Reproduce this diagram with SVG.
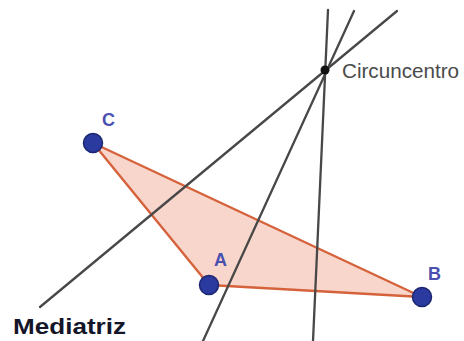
<svg xmlns="http://www.w3.org/2000/svg" width="464" height="341" viewBox="0 0 464 341">
<style>
.line{stroke:#484848;stroke-width:2.3;stroke-linecap:round;fill:none}
.tri{fill:#f8d6cb;stroke:#d6623c;stroke-width:2.4;stroke-linejoin:round}
.pt{fill:#2b3a9e;stroke:#1c2670;stroke-width:1.5}
.lbl{font-family:"Liberation Sans",Arial,sans-serif;font-weight:bold;font-size:18px;fill:#4a4fb0}
</style>
<rect width="464" height="341" fill="#ffffff"/>
<g id="triangle">
<polygon class="tri" points="93,143 209,285 422,297"/>
</g>
<g id="connectors">
<line class="line" x1="397" y1="11" x2="40" y2="307"/>
<line class="line" x1="354" y1="11" x2="203" y2="341"/>
<line class="line" x1="328" y1="10" x2="313" y2="341"/>
</g>
<g id="C">
<circle class="pt" cx="93" cy="143" r="9.5"/>
<text class="lbl" x="102" y="126">C</text>
</g>
<g id="A">
<circle class="pt" cx="209" cy="285" r="9.5"/>
<text class="lbl" x="214" y="266">A</text>
</g>
<g id="B">
<circle class="pt" cx="422" cy="297" r="9.5"/>
<text class="lbl" x="428" y="280">B</text>
</g>
<g id="circuncentro">
<circle cx="325" cy="70" r="4.5" fill="#111111"/>
<text x="342" y="78" font-family="Liberation Sans, Arial, sans-serif" font-size="20" fill="#4a4a4a" textLength="117" lengthAdjust="spacingAndGlyphs">Circuncentro</text>
</g>
<g id="mediatriz-label">
<text x="13" y="334" font-family="Liberation Sans, Arial, sans-serif" font-size="22" font-weight="bold" fill="#15152a" textLength="113" lengthAdjust="spacingAndGlyphs">Mediatriz</text>
</g>
</svg>
